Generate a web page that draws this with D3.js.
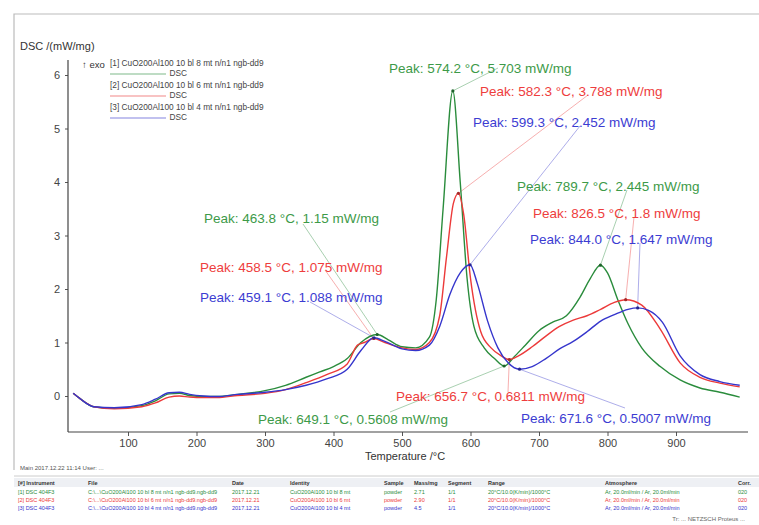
<!DOCTYPE html>
<html><head><meta charset="utf-8">
<script src="https://cdn.jsdelivr.net/npm/d3@7"></script>
<style>body{margin:0;background:#fff;} svg{display:block;font-family:"Liberation Sans",Arial,sans-serif;}</style>
</head><body><svg id="c" width="759" height="525"></svg>
<script>
// ---- data ----
const xTicks = [100,200,300,400,500,600,700,800,900];
const yTicks = [0,1,2,3,4,5,6];
const seriesNames = ["[1] CuO200Al100 10 bl 8 mt n/n1 ngb-dd9","[2] CuO200Al100 10 bl 6 mt n/n1 ngb-dd9","[3] CuO200Al100 10 bl 4 mt n/n1 ngb-dd9"];
const tempsG = [20,30,50,80,120,140,160,175,190,210,230,260,300,330,360,380,400,420,440,463.8,480,500,520,540,550,560,574.2,585,595,605,620,635,649.1,665,680,700,720,740,760,775,789.7,800,815,830,850,877,906,935,964,993];
const dscG   = [0.05,-0.05,-0.2,-0.23,-0.18,-0.09,0.04,0.05,0.01,-0.01,-0.01,0.03,0.1,0.2,0.35,0.45,0.55,0.7,1.0,1.15,1.05,0.92,0.9,1.1,1.8,3.5,5.703,4.0,2.2,1.3,0.9,0.7,0.5608,0.75,0.95,1.22,1.38,1.5,1.85,2.2,2.445,2.3,1.8,1.35,0.9,0.55,0.3,0.15,0.07,-0.02];
const tempsR = [20,30,50,80,120,140,160,175,190,210,230,260,300,330,360,390,420,435,445,458.5,475,500,520,540,555,565,575,582.3,590,600,615,630,645,656.7,670,690,710,730,750,770,790,810,826.5,850,877,906,935,964,993];
const dscR   = [0.05,-0.05,-0.2,-0.24,-0.2,-0.13,-0.02,0.0,-0.02,-0.03,-0.03,0.01,0.05,0.12,0.25,0.4,0.6,0.95,1.0,1.075,1.0,0.9,0.87,1.0,1.5,2.6,3.6,3.788,3.4,2.2,1.2,0.9,0.75,0.6811,0.75,0.92,1.12,1.3,1.42,1.5,1.62,1.75,1.8,1.7,1.25,0.62,0.35,0.24,0.17];
const tempsB = [20,30,50,80,120,140,160,175,190,210,230,260,300,330,360,390,420,440,459.1,475,500,520,540,555,570,585,599.3,610,625,640,655,671.6,690,710,730,750,770,790,810,830,844,860,880,906,935,964,993];
const dscB   = [0.05,-0.05,-0.2,-0.22,-0.16,-0.06,0.06,0.07,0.03,0.0,-0.01,0.03,0.07,0.12,0.2,0.32,0.5,0.85,1.088,1.02,0.88,0.85,0.95,1.3,1.9,2.3,2.452,2.1,1.4,0.9,0.62,0.5007,0.55,0.7,0.88,1.02,1.2,1.4,1.52,1.62,1.647,1.6,1.38,0.75,0.4,0.27,0.2];
const peakText = ["Peak: 574.2 °C, 5.703 mW/mg","Peak: 582.3 °C, 3.788 mW/mg","Peak: 599.3 °C, 2.452 mW/mg",
  "Peak: 789.7 °C, 2.445 mW/mg","Peak: 826.5 °C, 1.8 mW/mg","Peak: 844.0 °C, 1.647 mW/mg",
  "Peak: 463.8 °C, 1.15 mW/mg","Peak: 458.5 °C, 1.075 mW/mg","Peak: 459.1 °C, 1.088 mW/mg",
  "Peak: 656.7 °C, 0.6811 mW/mg","Peak: 649.1 °C, 0.5608 mW/mg","Peak: 671.6 °C, 0.5007 mW/mg"];
const peakT = [574.2,582.3,599.3,789.7,826.5,844.0,463.8,458.5,459.1,656.7,649.1,671.6];
const peakV = [5.703,3.788,2.452,2.445,1.8,1.647,1.15,1.075,1.088,0.6811,0.5608,0.5007];
const peakSeries = [0,1,2,0,1,2,0,1,2,1,0,2];
const tableHead = ["[#] Instrument","File","Date","Identity","Sample","Mass/mg","Segment","Range","Atmosphere","Corr."];
const tableRows = [
 ["[1] DSC 404F3","C:\\...\\CuO200Al100 10 bl 8 mt n/n1 ngb-dd9.ngb-dd9","2017.12.21","CuO200Al100 10 bl 8 mt","powder","2.71","1/1","20°C/10.0(K/min)/1000°C","Ar, 20.0ml/min / Ar, 20.0ml/min","020"],
 ["[2] DSC 404F3","C:\\...\\CuO200Al100 10 bl 6 mt n/n1 ngb-dd9.ngb-dd9","2017.12.21","CuO200Al100 10 bl 6 mt","powder","2.90","1/1","20°C/10.0(K/min)/1000°C","Ar, 20.0ml/min / Ar, 20.0ml/min","020"],
 ["[3] DSC 404F3","C:\\...\\CuO200Al100 10 bl 4 mt n/n1 ngb-dd9.ngb-dd9","2017.12.21","CuO200Al100 10 bl 4 mt","powder","4.5","1/1","20°C/10.0(K/min)/1000°C","Ar, 20.0ml/min / Ar, 20.0ml/min","020"]];

// ---- layout / style ----
const colors = ["#2a8c3c","#ec3a3a","#3535cc"];
const textColors = ["#3d9a48","#ee3d3d","#3c3cd2"];
const labelPos = [[389,73],[480,96],[473,127],[517,191],[533,218],[530,244],[204,223],[200,272],[200,302],[396,401],[258,424],[521,423]];
const anchorPos = [[498,68],[588,95],[580,126],[627,190],[634,217],[640,243],[303,224],[325,270],[310,302],[508,392],[390,412],[625,408]];

const svg = d3.select("#c");
const x = d3.scaleLinear().domain([0,1000]).range([59.5,744.5]);
const y = d3.scaleLinear().domain([0,6]).range([396,75]);

// frame
svg.append("path").attr("d","M14,470 V14 H759").attr("fill","none").attr("stroke","#bbb").attr("stroke-width",1.2);
svg.append("line").attr("x1",14).attr("x2",759).attr("y1",476).attr("y2",476).attr("stroke","#ccc");

// axes
const gx = svg.append("g").attr("transform","translate(0,432)")
  .call(d3.axisBottom(x).tickValues(xTicks).tickSize(4).tickFormat(d3.format("d")));
gx.select(".domain").remove();
gx.selectAll("text").attr("font-size",11).attr("fill","#444").attr("font-family","Liberation Sans, Arial");
gx.selectAll("line").attr("stroke","#555");
svg.append("line").attr("x1",68).attr("x2",748).attr("y1",432).attr("y2",432).attr("stroke","#444").attr("stroke-width",1.2);

const gy = svg.append("g").attr("transform","translate(68,0)")
  .call(d3.axisLeft(y).tickValues(yTicks).tickSize(3).tickFormat(d3.format("d")));
gy.select(".domain").remove();
gy.selectAll("text").attr("font-size",11).attr("fill","#444").attr("x",-8).attr("font-family","Liberation Sans, Arial");
gy.selectAll("line").attr("stroke","#555");
svg.append("line").attr("x1",68).attr("x2",68).attr("y1",60).attr("y2",432).attr("stroke","#444").attr("stroke-width",1.2);

svg.append("text").attr("x",20).attr("y",50).attr("font-size",11).attr("fill","#333").text("DSC /(mW/mg)");
svg.append("text").attr("y",460).attr("font-size",11).attr("fill","#333").attr("x",405).attr("text-anchor","middle").text("Temperature /°C");
svg.append("text").attr("x",82).attr("y",68).attr("font-size",9.5).attr("fill","#333").text("↑ exo");

// legend
seriesNames.forEach((n,i)=>{
  const ly = 66 + i*22;
  svg.append("text").attr("x",110).attr("y",ly).attr("font-size",8.3).attr("fill","#444").text(n);
  svg.append("line").attr("x1",110).attr("x2",166).attr("y1",ly+8).attr("y2",ly+8).attr("stroke",colors[i]).attr("stroke-width",1.2).attr("opacity",0.6);
  svg.append("text").attr("x",187).attr("y",ly+10).attr("font-size",8.3).attr("fill","#444").attr("text-anchor","end").text("DSC");
});

// leader lines
peakT.forEach((t,i)=>{
  svg.append("line").attr("x1",x(t)).attr("y1",y(peakV[i])).attr("x2",anchorPos[i][0]).attr("y2",anchorPos[i][1])
    .attr("stroke",colors[peakSeries[i]]).attr("stroke-width",0.8).attr("opacity",0.5);
});

// curves
const line = d3.line().x(d=>x(d[0])).y(d=>y(d[1])).curve(d3.curveMonotoneX);
const series = [[tempsG,dscG],[tempsR,dscR],[tempsB,dscB]];
series.forEach(([ts,vs],i)=>{
  svg.append("path").datum(ts.map((t,j)=>[t,vs[j]])).attr("d",line)
    .attr("fill","none").attr("stroke",colors[i]).attr("stroke-width",1.4);
});
// peak markers
peakT.forEach((t,i)=>{
  svg.append("circle").attr("cx",x(t)).attr("cy",y(peakV[i])).attr("r",1.6).attr("fill",d3.color(colors[peakSeries[i]]).darker(1));
});
// labels
peakText.forEach((s,i)=>{
  svg.append("text").attr("x",labelPos[i][0]).attr("y",labelPos[i][1]).attr("font-size",13.5)
    .attr("fill",textColors[peakSeries[i]]).text(s);
});

// footer
svg.append("text").attr("x",20).attr("y",470).attr("font-size",6).attr("fill","#555").text("Main   2017.12.22 11:14   User: ...");
const colX = [18,88,232,290,384,414,448,488,605,738];
svg.append("rect").attr("x",14).attr("y",478).attr("width",745).attr("height",9).attr("fill","#eef0f4");
tableHead.forEach((h,k)=>svg.append("text").attr("x",colX[k]).attr("y",485).attr("font-size",5.5).attr("font-weight","bold").attr("fill","#333").text(h));
tableRows.forEach((r,i)=>r.forEach((c,k)=>svg.append("text").attr("x",colX[k]).attr("y",494+i*8).attr("font-size",5.5).attr("fill",colors[i]).text(c)));
svg.append("text").attr("x",745).attr("y",521).attr("font-size",6).attr("fill","#666").attr("text-anchor","end").text("Tr: ...  NETZSCH Proteus ...");
</script></body></html>
